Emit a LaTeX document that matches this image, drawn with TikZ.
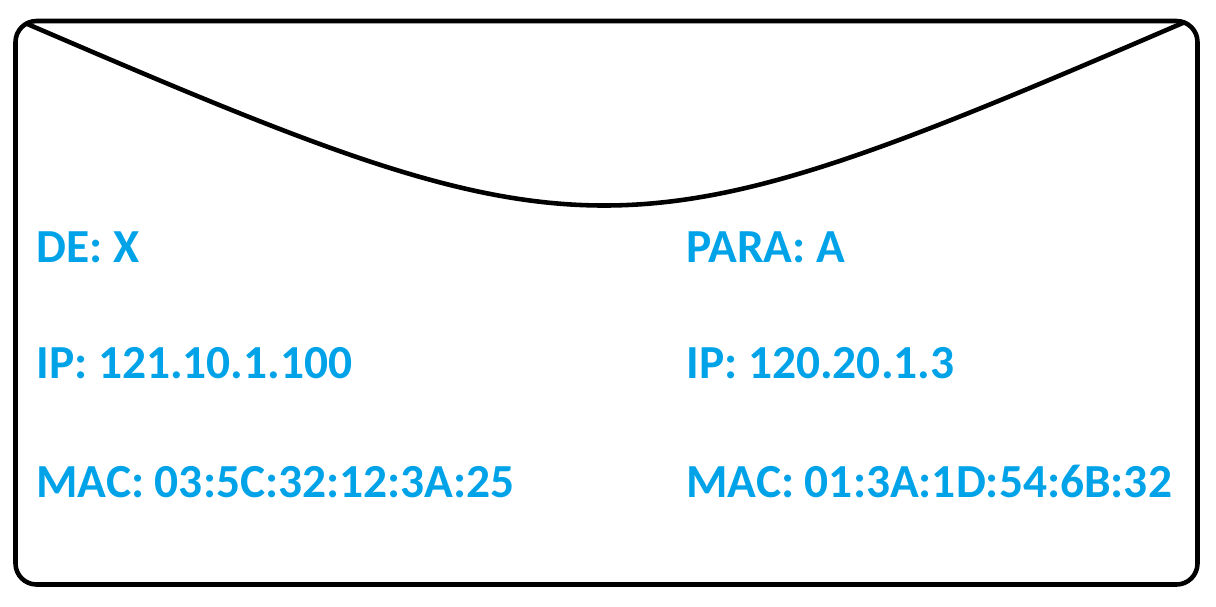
\documentclass[tikz,border=0pt]{standalone}
\usepackage{fontspec}
\setmainfont{Carlito}
\usetikzlibrary{positioning}

\definecolor{addrblue}{RGB}{0,162,232}

\begin{document}
\begin{tikzpicture}[
    x=0.02cm, y=-0.02cm,
    envelope/.style = {line width=2.6pt, line join=round},
    addr/.style     = {text=addrblue, font=\bfseries\fontsize{27}{32}\selectfont,
                       inner sep=0pt, anchor=base west},
]
    \useasboundingbox (0,0) rectangle (1216,606);

    % envelope body and flap
    \draw[envelope, rounded corners=12] (15.5,21) rectangle (1197.5,584.5);
    \draw[envelope] (25,23) .. controls (592,267) and (618,266) .. (1185,22);

    % sender
    \node[addr] (de)    at (36,262)                            {DE: X};
    \node[addr] (ipde)  [below=2.34cm of de.base west, anchor=base west]   {IP: 121.10.1.100};
    \node[addr] (macde) [below=2.38cm of ipde.base west, anchor=base west] {MAC: 03:5C:32:12:3A:25};

    % receiver
    \node[addr] (para)    at (686,262)                              {PARA: A};
    \node[addr] (ippara)  [below=2.34cm of para.base west, anchor=base west]   {IP: 120.20.1.3};
    \node[addr] (macpara) [below=2.38cm of ippara.base west, anchor=base west] {MAC: 01:3A:1D:54:6B:32};
\end{tikzpicture}
\end{document}
